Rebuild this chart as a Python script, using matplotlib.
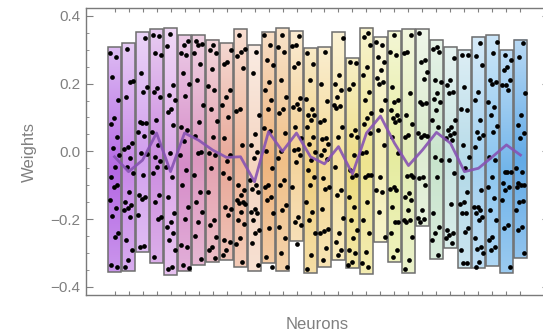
import numpy as np
import matplotlib
matplotlib.use("Agg")
import matplotlib.pyplot as plt
from matplotlib.colors import to_rgb
from matplotlib.patches import Rectangle

# range of each neuron's weights (box bottom / top)
box_low = [-0.355, -0.352, -0.296, -0.330, -0.365, -0.352, -0.335, -0.326, -0.321, -0.342,
           -0.352, -0.330, -0.352, -0.264, -0.360, -0.340, -0.321, -0.345, -0.362, -0.267,
           -0.326, -0.358, -0.220, -0.319, -0.286, -0.345, -0.345, -0.338, -0.358, -0.316]
box_high = [0.309, 0.320, 0.351, 0.360, 0.363, 0.343, 0.343, 0.330, 0.319, 0.360,
            0.314, 0.351, 0.363, 0.355, 0.304, 0.309, 0.351, 0.274, 0.365, 0.338,
            0.355, 0.360, 0.360, 0.328, 0.309, 0.299, 0.338, 0.343, 0.299, 0.330]
# mean weight per neuron (purple line)
mean_w = [-0.016, -0.060, -0.026, 0.054, -0.060, 0.054, 0.033, 0.004, -0.018, -0.016,
          -0.090, 0.058, 0.000, 0.054, -0.016, -0.037, 0.014, -0.067, 0.054, 0.104,
          0.024, -0.042, 0.004, 0.056, 0.024, -0.060, -0.050, -0.016, 0.019, -0.011]

# individual weights per neuron (dots)
weights = [
    [0.291, 0.279, 0.220, 0.151, 0.097, 0.080, 0.043, 0.009, -0.011, -0.046, -0.075, -0.099, -0.104, -0.144, -0.168, -0.191, -0.242, -0.252, -0.335, -0.340],
    [0.303, 0.208, 0.205, 0.159, 0.025, 0.012, 0.008, -0.021, -0.045, -0.065, -0.119, -0.150, -0.159, -0.168, -0.173, -0.195, -0.262, -0.291, -0.321, -0.341],
    [0.335, 0.232, 0.191, 0.176, 0.087, 0.084, 0.083, 0.058, 0.045, -0.006, -0.008, -0.070, -0.129, -0.134, -0.140, -0.188, -0.279, -0.281],
    [0.343, 0.340, 0.289, 0.285, 0.186, 0.176, 0.160, 0.092, 0.058, 0.018, -0.016, -0.030, -0.046, -0.065, -0.129, -0.149, -0.193, -0.200, -0.311],
    [0.346, 0.310, 0.195, 0.166, 0.151, 0.126, 0.117, 0.077, -0.006, -0.046, -0.075, -0.134, -0.183, -0.208, -0.223, -0.242, -0.262, -0.291, -0.341, -0.346],
    [0.326, 0.313, 0.289, 0.284, 0.230, 0.200, 0.163, 0.072, 0.063, 0.030, -0.010, -0.055, -0.100, -0.164, -0.200, -0.277, -0.282, -0.336, -0.343],
    [0.326, 0.318, 0.313, 0.289, 0.259, 0.210, 0.136, 0.087, 0.045, -0.001, -0.006, -0.070, -0.119, -0.149, -0.178, -0.208, -0.250, -0.319],
    [0.313, 0.298, 0.289, 0.244, 0.192, 0.180, 0.126, 0.090, 0.043, -0.006, -0.011, -0.050, -0.119, -0.203, -0.218, -0.252, -0.282, -0.291, -0.316],
    [0.300, 0.264, 0.259, 0.181, 0.161, 0.136, 0.102, 0.040, -0.011, -0.030, -0.065, -0.080, -0.164, -0.169, -0.188, -0.262, -0.267, -0.291, -0.306],
    [0.343, 0.303, 0.294, 0.281, 0.245, 0.126, 0.120, 0.020, -0.100, -0.114, -0.129, -0.144, -0.149, -0.152, -0.154, -0.178, -0.203, -0.213, -0.257, -0.274, -0.326],
    [0.294, 0.230, 0.107, 0.050, 0.018, -0.001, -0.021, -0.085, -0.100, -0.110, -0.120, -0.169, -0.178, -0.183, -0.203, -0.232, -0.242, -0.272, -0.336],
    [0.343, 0.313, 0.269, 0.254, 0.205, 0.181, 0.151, 0.124, 0.068, 0.060, 0.000, -0.050, -0.100, -0.105, -0.134, -0.144, -0.183, -0.227, -0.313, -0.341],
    [0.343, 0.308, 0.294, 0.210, 0.161, 0.126, 0.112, 0.053, 0.000, -0.020, -0.085, -0.100, -0.159, -0.173, -0.223, -0.257, -0.301, -0.341],
    [0.340, 0.313, 0.310, 0.261, 0.249, 0.156, 0.141, 0.131, 0.124, 0.072, 0.038, 0.008, 0.004, -0.011, -0.031, -0.105, -0.193, -0.208, -0.218, -0.274],
    [0.289, 0.259, 0.210, 0.153, 0.124, 0.107, 0.107, 0.092, 0.072, 0.043, 0.023, -0.001, -0.026, -0.055, -0.075, -0.100, -0.149, -0.178, -0.203, -0.242, -0.306, -0.346],
    [0.294, 0.200, 0.150, 0.092, 0.087, 0.038, 0.035, 0.023, 0.004, -0.011, -0.024, -0.080, -0.105, -0.110, -0.169, -0.230, -0.234, -0.242, -0.284, -0.321],
    [0.333, 0.225, 0.200, 0.181, 0.161, 0.136, 0.133, 0.129, 0.072, 0.043, -0.046, -0.114, -0.129, -0.198, -0.242, -0.267, -0.291, -0.306],
    [0.264, 0.261, 0.200, 0.183, 0.063, 0.048, 0.043, -0.010, -0.055, -0.070, -0.075, -0.134, -0.164, -0.203, -0.232, -0.257, -0.291, -0.301, -0.326, -0.336],
    [0.348, 0.338, 0.313, 0.249, 0.225, 0.176, 0.151, 0.112, 0.097, 0.082, 0.053, -0.001, -0.006, -0.070, -0.075, -0.070, -0.149, -0.203, -0.242, -0.296, -0.331, -0.341],
    [0.323, 0.313, 0.279, 0.264, 0.240, 0.215, 0.205, 0.200, 0.151, 0.122, 0.063, 0.018, -0.075, -0.114, -0.119, -0.180, -0.252],
    [0.343, 0.294, 0.284, 0.190, 0.151, 0.146, 0.122, 0.107, 0.097, 0.092, 0.087, 0.043, -0.006, -0.105, -0.110, -0.114, -0.164, -0.208, -0.208, -0.242, -0.291, -0.311],
    [0.343, 0.294, 0.289, 0.171, 0.107, 0.082, 0.048, 0.043, -0.070, -0.073, -0.075, -0.124, -0.134, -0.144, -0.173, -0.203, -0.203, -0.208, -0.252, -0.321, -0.346],
    [0.348, 0.269, 0.264, 0.235, 0.212, 0.146, 0.143, 0.141, 0.053, 0.048, 0.043, 0.045, -0.075, -0.080, -0.100, -0.173, -0.198, -0.201, -0.208],
    [0.308, 0.303, 0.294, 0.210, 0.205, 0.171, 0.153, 0.146, 0.122, 0.092, 0.072, -0.016, -0.026, -0.075, -0.183, -0.223, -0.242, -0.262, -0.306],
    [0.274, 0.210, 0.195, 0.176, 0.171, 0.092, 0.072, 0.063, 0.053, 0.048, 0.038, 0.033, -0.026, -0.065, -0.154, -0.232, -0.242, -0.247, -0.257, -0.272],
    [0.284, 0.284, 0.190, 0.126, 0.122, 0.018, -0.018, -0.050, -0.075, -0.119, -0.149, -0.154, -0.183, -0.183, -0.227, -0.237, -0.291, -0.331, -0.331],
    [0.320, 0.280, 0.254, 0.176, 0.151, 0.092, 0.058, 0.048, 0.038, 0.013, -0.114, -0.164, -0.164, -0.173, -0.183, -0.193, -0.203, -0.257, -0.282, -0.287, -0.301, -0.326, -0.341],
    [0.323, 0.289, 0.210, 0.205, 0.200, 0.146, 0.131, 0.107, 0.074, 0.058, -0.016, -0.026, -0.075, -0.105, -0.139, -0.173, -0.203, -0.252, -0.262, -0.282, -0.291],
    [0.284, 0.269, 0.250, 0.240, 0.210, 0.196, 0.196, 0.181, -0.060, -0.060, -0.060, -0.094, -0.104, -0.114, -0.143, -0.217, -0.227, -0.340],
    [0.319, 0.279, 0.171, 0.107, 0.078, 0.053, 0.038, -0.050, -0.060, -0.094, -0.099, -0.099, -0.104, -0.148, -0.151, -0.173, -0.222, -0.232, -0.301],
]

box_colors = ['#b468e4', '#c888e8', '#d2a0ee', '#cc8ce0', '#dda8ea', '#d68cc8', '#dc98c0', '#e4a2b0',
              '#e8a898', '#eeb498', '#f4d4c0', '#eeb47c', '#f0c088', '#f4d298', '#f0d080', '#f4d894',
              '#f6e2a0', '#eedc80', '#eee490', '#f4eeb4', '#e6eca0', '#e2ecb4', '#dcecd0', '#c8e4cc',
              '#c8e4e0', '#b4dae8', '#a2d0f0', '#8cc6f0', '#70b4ea', '#62aae6']

gray = '#808080'
plt.rcParams['font.family'] = ['Liberation Sans', 'DejaVu Sans']

fig = plt.figure(figsize=(5.43, 3.33), dpi=100)
ax = fig.add_axes([86 / 543, 38 / 333, 463 / 543, 287 / 333])

n = len(weights)
pos = np.arange(1, n + 1)
w = 0.88

for i in range(n):
    x = pos[i]
    lo, hi = box_low[i], box_high[i]
    # vertical glossy gradient: light top, saturated a bit below middle
    s = np.linspace(0, 1, 120)
    mix = np.where(s < 0.45, 0.3 * (1 - s / 0.45), 0.55 * (s - 0.45) / 0.55)
    c = np.array(to_rgb(box_colors[i]))
    img = c[None, :] * (1 - mix[:, None]) + mix[:, None]
    img = np.repeat(img[:, None, :], 2, axis=1)
    ax.imshow(img, extent=(x - w / 2, x + w / 2, lo, hi), origin='lower',
              aspect='auto', interpolation='bilinear', zorder=1)
    ax.add_patch(Rectangle((x - w / 2, lo), w, hi - lo, fill=False,
                           ec='#6e6e6e', lw=1.1, zorder=2))
    vals = np.array(weights[i])
    k = np.arange(len(vals))
    off = ((k * 0.618034 + i * 0.37) % 1 - 0.5) * 0.78 * w
    ax.plot(x + off, vals, 'o', color='black', ms=3.4, mec='none', zorder=3)

ax.plot(pos, mean_w, color='#8753b3', lw=2.0, alpha=0.9, zorder=4)

ax.set_xlim(-1.04, 32.04)
ax.set_ylim(-0.424, 0.423)

ax.set_xticks(pos, labels=[''] * n)
yt = [-0.4, -0.2, 0.0, 0.2, 0.4]
ax.set_yticks(yt, labels=['\u22120.4', '\u22120.2', '0.0', '0.2', '0.4'])
ax.set_yticks(np.arange(-0.4, 0.41, 0.05), minor=True)
ax.tick_params(axis='both', which='both', direction='in', top=True, right=True,
               color=gray, labelcolor=gray, labelsize=11)
ax.tick_params(axis='x', which='major', length=3, width=0.8)
ax.tick_params(axis='y', which='major', length=5, width=0.8, pad=4)
ax.tick_params(axis='y', which='minor', length=2.5, width=0.6)
for sp in ax.spines.values():
    sp.set_color('#7a7a7a')
    sp.set_linewidth(1.0)

ax.set_xlabel('Neurons', color=gray, fontsize=12, labelpad=12)
ax.set_ylabel('Weights', color=gray, fontsize=12, labelpad=10)

fig.savefig('out.png', dpi=100)
